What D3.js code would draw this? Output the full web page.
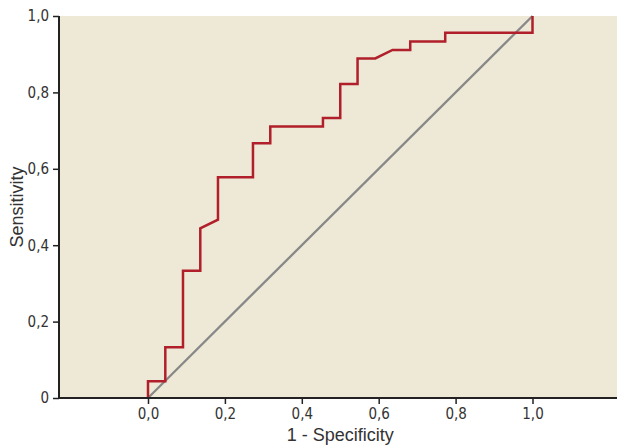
<!DOCTYPE html>
<html>
<head>
<meta charset="utf-8">
<script src="https://cdn.jsdelivr.net/npm/d3@7"></script>
<style>
  body { margin: 0; background: #fff; }
  .tick text { font-family: "Liberation Sans Narrow", "DejaVu Sans Condensed", sans-serif; font-size: 15px; fill: #333; }
  .title { font-family: "Liberation Sans", Arial, sans-serif; font-size: 18px; fill: #333; }
</style>
</head>
<body>
<div id="chart"></div>
<script>
// ROC curve vertices
const fpr = [0, 0, 0.045, 0.045, 0.091, 0.091, 0.136, 0.136, 0.182, 0.182, 0.273, 0.273, 0.318, 0.318,
             0.455, 0.455, 0.5, 0.5, 0.545, 0.545, 0.591, 0.636, 0.682, 0.682, 0.773, 0.773, 1, 1];
const tpr = [0, 0.044, 0.044, 0.133, 0.133, 0.333, 0.333, 0.444, 0.467, 0.578, 0.578, 0.667, 0.667, 0.711,
             0.711, 0.733, 0.733, 0.822, 0.822, 0.889, 0.889, 0.911, 0.911, 0.933, 0.933, 0.956, 0.956, 1];
const refLine = [[0, 0], [1, 1]];
const xTicks = [0, 0.2, 0.4, 0.6, 0.8, 1.0];
const xTickLabels = ["0,0", "0,2", "0,4", "0,6", "0,8", "1,0"];
const yTicks = [0, 0.2, 0.4, 0.6, 0.8, 1.0];
const yTickLabels = ["0", "0,2", "0,4", "0,6", "0,8", "1,0"];

const width = 617, height = 445;
const plotLeft = 59, plotRight = 617, plotTop = 16, plotBottom = 398;

const x = d3.scaleLinear().domain([0, 1]).range([148, 532.5]);
const y = d3.scaleLinear().domain([0, 1]).range([plotBottom, plotTop]);

const svg = d3.select("#chart").append("svg")
    .attr("width", width)
    .attr("height", height);

svg.append("rect")
    .attr("x", plotLeft).attr("y", plotTop)
    .attr("width", plotRight - plotLeft).attr("height", plotBottom - plotTop)
    .attr("fill", "#ede9d6");

const line = d3.line().x(d => x(d[0])).y(d => y(d[1]));

svg.append("path")
    .datum(refLine)
    .attr("d", line)
    .attr("fill", "none")
    .attr("stroke", "#888888")
    .attr("stroke-width", 2.3);

svg.append("path")
    .datum(fpr.map((f, i) => [f, tpr[i]]))
    .attr("d", line)
    .attr("fill", "none")
    .attr("stroke", "#b01f2a")
    .attr("stroke-width", 2.5);

// axes
const xAxis = svg.append("g")
    .attr("transform", `translate(0,${plotBottom})`)
    .call(d3.axisBottom(x).tickValues(xTicks).tickFormat((d, i) => xTickLabels[i]).tickSize(6).tickSizeOuter(0).tickPadding(4));
xAxis.select(".domain").remove();
svg.append("line")
    .attr("x1", plotLeft).attr("x2", plotRight)
    .attr("y1", plotBottom).attr("y2", plotBottom)
    .attr("stroke", "#222").attr("stroke-width", 2);

const yAxis = svg.append("g")
    .attr("transform", `translate(${plotLeft},0)`)
    .call(d3.axisLeft(y).tickValues(yTicks).tickFormat((d, i) => yTickLabels[i]).tickSize(6).tickSizeOuter(0).tickPadding(4));
yAxis.select(".domain").remove();
svg.append("line")
    .attr("x1", plotLeft).attr("x2", plotLeft)
    .attr("y1", plotTop).attr("y2", plotBottom + 1)
    .attr("stroke", "#222").attr("stroke-width", 2);

svg.selectAll(".tick line").attr("stroke", "#222").attr("stroke-width", 1.5);

svg.append("text")
    .attr("class", "title")
    .attr("x", x(0.5))
    .attr("y", 441)
    .attr("text-anchor", "middle")
    .text("1 - Specificity");

svg.append("text")
    .attr("class", "title")
    .attr("transform", `translate(23,${(plotTop + plotBottom) / 2}) rotate(-90)`)
    .attr("text-anchor", "middle")
    .text("Sensitivity");
</script>
</body>
</html>
